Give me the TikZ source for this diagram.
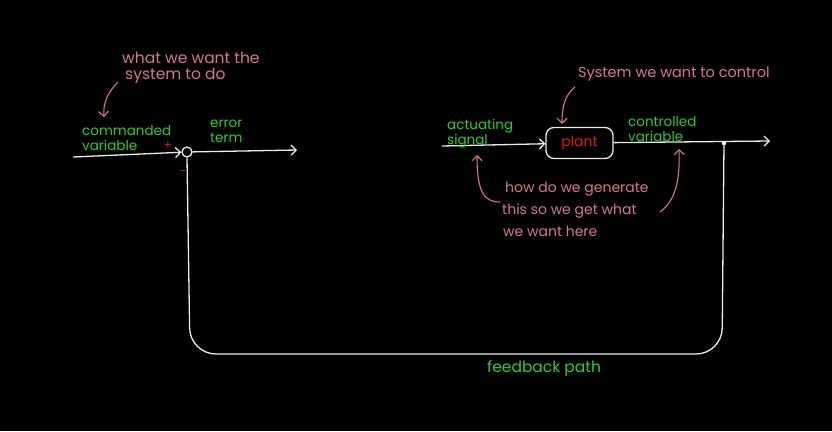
\documentclass[tikz,border=0pt]{standalone}
\usepackage{fontspec}
\setmainfont{Poppins}
\usetikzlibrary{arrows.meta}
\definecolor{hgreen}{RGB}{50,205,50}
\definecolor{hpink}{RGB}{215,120,140}
\definecolor{hred}{RGB}{225,25,25}
\definecolor{hwhite}{RGB}{235,235,235}
\begin{document}
\begin{tikzpicture}[x=1pt,y=-1pt,
  wire/.style={draw=hwhite,line width=1.3pt},
  tipw/.style={-{Straight Barb[length=5pt,width=10pt]}},
  pinkarrow/.style={draw=hpink,line width=1.1pt,-{Straight Barb[length=5pt,width=10pt]}},
  lbl/.style={text=hgreen,font=\fontsize{13.5}{15}\selectfont,align=left,anchor=base west,inner sep=0pt},
  note/.style={text=hpink,font=\fontsize{14.5}{16}\selectfont,align=left,anchor=base west,inner sep=0pt},
  sign/.style={text=hred,font=\fontsize{12}{12}\selectfont,inner sep=0pt},
  sumc/.style={circle,draw=hwhite,line width=1.3pt,minimum size=10pt,inner sep=0pt},
  plantbox/.style={draw=hwhite,line width=1.3pt,rounded corners=8pt,minimum width=67pt,minimum height=31pt,text=hred,font=\fontsize{14}{14}\selectfont}
]
\fill[black] (0,0) rectangle (832,431);
\useasboundingbox (0,0) rectangle (832,431);

% left part
\node[sumc] (sum) at (187,152) {};
\coordinate (inL) at (73,157);
\coordinate (outL) at (297,150);
\draw[wire,tipw] (inL) -- (sum);
\draw[wire,tipw] (sum) -- (outL);
\node[sign] (plus) at (168,146) {+};
\node[sign] (minus) at (183,173) {−};

\node[lbl] (cmd) at (82,150) {commanded\\variable};
\node[lbl] (err) at (210,142) {error\\term};
\node[note,font=\fontsize{15.5}{16}\selectfont] (want) at (122,79) {what we want the\\\hspace*{3pt}system to do};
\coordinate (a1s) at (118,82);
\coordinate (a1e) at (104,117);
\draw[pinkarrow] (a1s) .. controls (107,93) and (103,104) .. (a1e);

% right part
\node[plantbox] (plant) at (579.5,143) {plant};
\coordinate (inR) at (442,146);
\coordinate (outR) at (770,141);
\coordinate (dot) at (724,143);
\draw[wire,tipw] (inR) -- (plant);
\draw[wire,tipw] (plant) -- (outR);
\fill[hwhite] (dot) circle (2.3pt);

\node[lbl] (act) at (447,144) {actuating\\signal};
\node[lbl] (ctl) at (628,141) {controlled\\variable};
\node[note] (sys) at (578,77) {System we want to control};
\coordinate (a2s) at (575,87);
\coordinate (a2e) at (562,124);
\draw[pinkarrow] (a2s) .. controls (565,95) and (562,106) .. (a2e);

\node[note,font=\fontsize{14}{22}\selectfont] (how) at (505,236) {how do we generate\\\hspace*{-3pt}this so we get what\\\hspace*{-2pt}we want here};
\coordinate (a3s) at (500,202);
\coordinate (a3e) at (477,155);
\draw[pinkarrow] (a3s) .. controls (484,202) and (477,192) .. (a3e);
\coordinate (a4s) at (660,212);
\coordinate (a4e) at (679,149);
\draw[pinkarrow] (a4s) .. controls (676,200) and (680,180) .. (a4e);

% feedback path
\coordinate (bl) at (190,354);
\coordinate (br) at (722,354);
\draw[wire,rounded corners=26pt] (dot) -- (br) -- (bl) -- (sum.south);
\node[lbl,font=\fontsize{15.5}{16}\selectfont] (fb) at (487,372) {feedback path};
\end{tikzpicture}
\end{document}
